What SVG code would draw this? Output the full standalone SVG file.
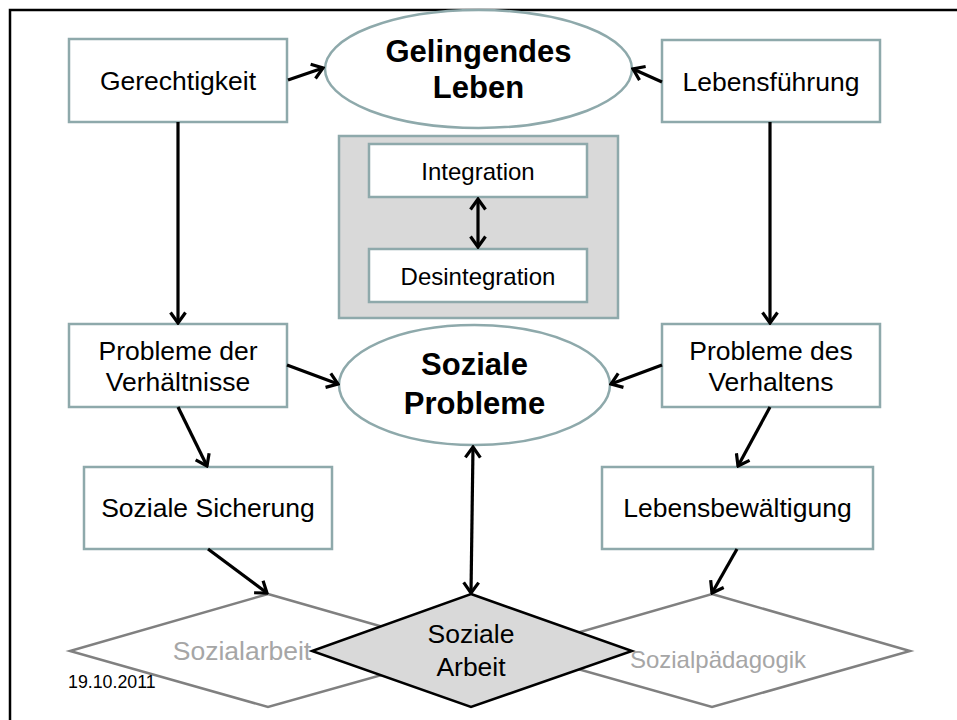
<svg xmlns="http://www.w3.org/2000/svg" width="957" height="720" viewBox="0 0 957 720">
<defs>
<style>
.box{fill:#fff;stroke:#8EA9AB;stroke-width:2.5}
.ell{fill:#fff;stroke:#8EA9AB;stroke-width:2.5}
.t{font-family:"Liberation Sans",Arial,sans-serif;fill:#000;text-anchor:middle}
.n{font-size:26.5px}
.s{font-size:24px}
.b{font-size:31px;font-weight:bold}
.g{fill:#A6A6A6}
.c{fill:none;stroke:#000;stroke-width:3.2}
.ha{marker-end:url(#ah)}
.dbl{marker-end:url(#ah);marker-start:url(#ah)}
</style>
<marker id="ah" markerUnits="userSpaceOnUse" viewBox="0 0 14 18" refX="12" refY="9" markerWidth="14" markerHeight="18" orient="auto-start-reverse">
<path d="M1.5,1.5 L12,9 L1.5,16.5" fill="none" stroke="#000" stroke-width="3.2"/>
</marker>
</defs>
<rect width="957" height="720" fill="#fff"/>
<rect x="10" y="10" width="960" height="730" fill="none" stroke="#000" stroke-width="2.5"/>

<g id="sozialarbeit">
<polygon points="268,594 467,651 268,707 70,651" fill="#fff" stroke="#808080" stroke-width="2.5"/>
<text class="t n g" x="242" y="660">Sozialarbeit</text>
</g>
<g id="sozialpaedagogik">
<polygon points="712,594 910,651 712,707 514,651" fill="#fff" stroke="#808080" stroke-width="2.5"/>
<text class="t s g" x="718" y="668">Sozialpädagogik</text>
</g>
<g id="soziale-arbeit">
<polygon points="471,594 632,651 471,707 312,651" fill="#D9D9D9" stroke="#000" stroke-width="2.5"/>
<text class="t n" x="471" y="643">Soziale</text>
<text class="t n" x="471" y="676">Arbeit</text>
</g>

<g id="gerechtigkeit">
<rect class="box" x="69" y="39" width="218" height="83"/>
<text class="t n" x="178" y="90">Gerechtigkeit</text>
</g>
<g id="gelingendes-leben">
<ellipse class="ell" cx="478.5" cy="69" rx="153.5" ry="59"/>
<text class="t b" x="478.5" y="62">Gelingendes</text>
<text class="t b" x="478.5" y="98">Leben</text>
</g>
<g id="lebensfuehrung">
<rect class="box" x="662" y="40" width="218" height="82"/>
<text class="t n" x="771" y="91">Lebensführung</text>
</g>
<g id="integration-gruppe">
<rect x="339" y="136" width="279" height="182" fill="#D9D9D9" stroke="#8EA9AB" stroke-width="2.5"/>
</g>
<g id="integration">
<rect class="box" x="369" y="144" width="218" height="53"/>
<text class="t s" x="478" y="180">Integration</text>
</g>
<g id="desintegration">
<rect class="box" x="369" y="249" width="218" height="53"/>
<text class="t s" x="478" y="285">Desintegration</text>
</g>
<g id="probleme-verhaeltnisse">
<rect class="box" x="69" y="324" width="218" height="83"/>
<text class="t n" x="178" y="360">Probleme der</text>
<text class="t n" x="178" y="391">Verhältnisse</text>
</g>
<g id="soziale-probleme">
<ellipse class="ell" cx="474.5" cy="385" rx="135.5" ry="60"/>
<text class="t b" x="474.5" y="375">Soziale</text>
<text class="t b" x="474.5" y="414">Probleme</text>
</g>
<g id="probleme-verhalten">
<rect class="box" x="662" y="324" width="218" height="83"/>
<text class="t n" x="771" y="360">Probleme des</text>
<text class="t n" x="771" y="391">Verhaltens</text>
</g>
<g id="soziale-sicherung">
<rect class="box" x="84" y="467" width="248" height="82"/>
<text class="t n" x="208" y="517">Soziale Sicherung</text>
</g>
<g id="lebensbewaeltigung">
<rect class="box" x="602" y="467" width="271" height="82"/>
<text class="t n" x="737.5" y="517">Lebensbewältigung</text>
</g>

<g id="connectors">
<line class="c ha" x1="288" y1="80" x2="323" y2="68"/>
<line class="c ha" x1="662" y1="82" x2="633" y2="69"/>
<line class="c dbl" x1="478" y1="199" x2="478" y2="247"/>
<line class="c ha" x1="178" y1="122" x2="178" y2="323"/>
<line class="c ha" x1="770" y1="122" x2="770" y2="323"/>
<line class="c ha" x1="287" y1="365" x2="338" y2="384"/>
<line class="c ha" x1="662" y1="365" x2="611" y2="384"/>
<line class="c ha" x1="178" y1="407" x2="207" y2="466"/>
<line class="c ha" x1="770" y1="407" x2="738" y2="466"/>
<line class="c ha" x1="208" y1="549" x2="267" y2="593"/>
<line class="c ha" x1="737" y1="549" x2="712" y2="593"/>
<line class="c dbl" x1="473" y1="447" x2="471" y2="593"/>
</g>
<text x="68" y="688" style="font-family:'Liberation Sans',Arial,sans-serif;font-size:17.8px;fill:#000">19.10.2011</text>
</svg>
